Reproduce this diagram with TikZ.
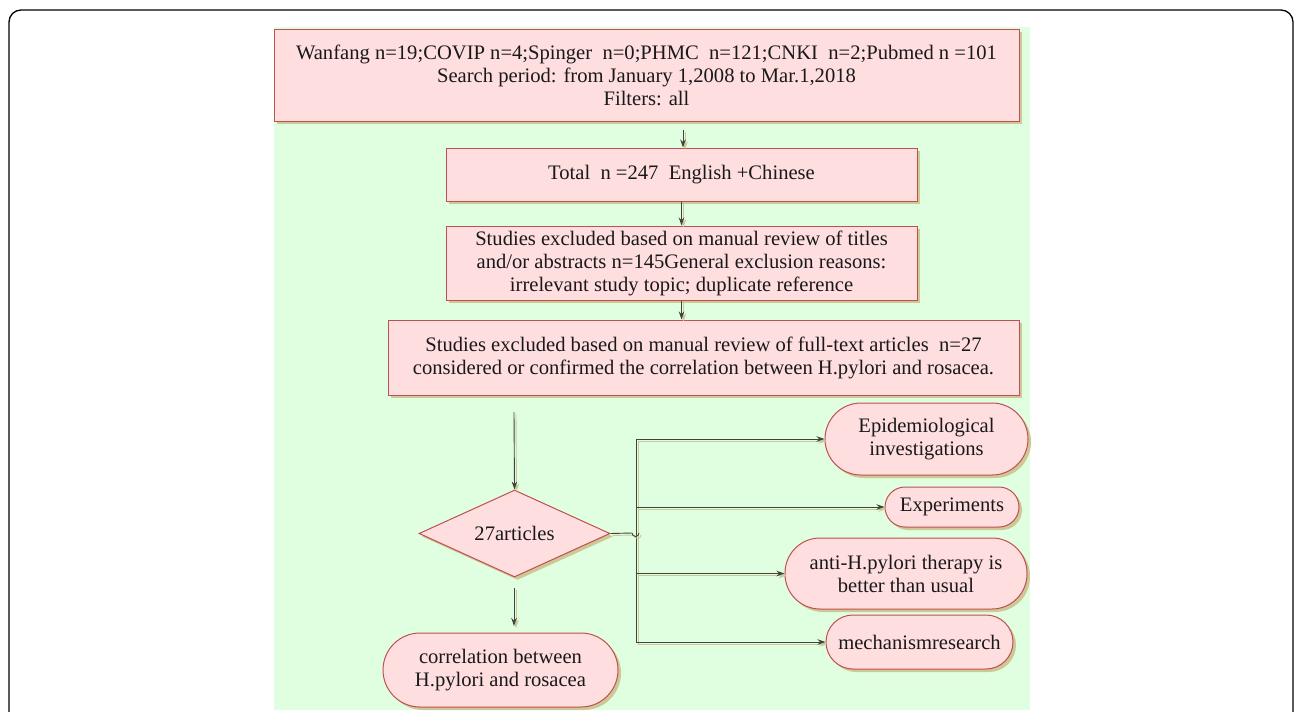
\documentclass[tikz,border=0pt]{standalone}
\usepackage{fontspec}
\setmainfont{Liberation Serif}
\usetikzlibrary{shapes.geometric,shadows,arrows.meta}
\definecolor{pinkfill}{RGB}{255,222,224}
\definecolor{boxline}{RGB}{190,80,82}
\definecolor{shadowcol}{RGB}{205,200,150}
\definecolor{panel}{RGB}{224,255,224}
\definecolor{linecol}{RGB}{64,68,64}
\definecolor{txt}{RGB}{25,25,25}
\tikzset{
  base/.style={draw=boxline, line width=1pt, fill=pinkfill, text=txt, align=center,
    font=\fontsize{20.6}{23}\selectfont, inner sep=0pt,
    drop shadow={shadow xshift=3pt, shadow yshift=-3pt, fill=shadowcol, opacity=1}},
  pbox/.style={base, rectangle},
  pill/.style={base, rectangle, rounded corners=#1},
  decis/.style={base, diamond, aspect=2.2},
  conn/.style={draw=linecol, line width=0.9pt, -{Stealth[length=8pt,width=5.5pt]},
    preaction={draw=shadowcol, line width=0.9pt, transform canvas={shift={(2pt,-2pt)}}}},
  plain/.style={draw=linecol, line width=0.9pt,
    preaction={draw=shadowcol, line width=0.9pt, transform canvas={shift={(2pt,-2pt)}}}}
}
\begin{document}
\begin{tikzpicture}[x=1pt,y=-1pt]
\useasboundingbox (0,0) rectangle (1296,712);
\clip (0,0) rectangle (1296,712);
\fill[white] (0,0) rectangle (1296,712);
\draw[black, line width=1.3pt, rounded corners=12] (9,740) rectangle (1293,10);
\fill[panel] (274,27) rectangle (1030,710);

\node[pbox, minimum width=745, minimum height=92] (src) at (646.5,75)
  {Wanfang n=19;COVIP n=4;Spinger\ \ n=0;PHMC\ \ n=121;CNKI\ \ n=2;Pubmed n =101\\
   Search period: from January 1,2008 to Mar.1,2018\\ Filters: all};
\node[pbox, minimum width=471, minimum height=53] (tot) at (681.5,174.5)
  {Total\ \ n =247\ \ English +Chinese};
\node[pbox, minimum width=471, minimum height=74] (ex1) at (681.5,263)
  {Studies excluded based on manual review of titles\\
   and/or abstracts n=145General exclusion reasons:\\
   irrelevant study topic; duplicate reference};
\node[pbox, minimum width=631, minimum height=75] (ex2) at (703.5,357.5)
  {Studies excluded based on manual review of full-text articles\ \ n=27\\
   considered or confirmed the correlation between H.pylori and rosacea.};
\node[decis, minimum width=191, minimum height=87] (art) at (514.5,533.5) {27articles};
\node[pill=37, minimum width=235, minimum height=74] (cor) at (500.5,670)
  {correlation between\\ H.pylori and rosacea};
\node[pill=36, minimum width=203, minimum height=72] (epi) at (926.5,439)
  {Epidemiological\\ investigations};
\node[pill=20, minimum width=134, minimum height=40] (exp) at (952,507) {Experiments};
\node[pill=35, minimum width=242, minimum height=71] (anti) at (906,573.5)
  {anti-H.pylori therapy is\\ better than usual};
\node[pill=27, minimum width=187, minimum height=54] (mech) at (919.5,642) {mechanismresearch};

\coordinate (a1) at (683,130);
\coordinate (a2) at (514,412);
\coordinate (a3) at (514,588);
\coordinate (a4) at (514,626);
\coordinate (t1) at (636,439);
\coordinate (t2) at (636,642);
\coordinate (h1) at (632,533);

\draw[conn] (a1) -- (tot.north -| a1);
\draw[conn] (tot.south) -- (ex1.north);
\draw[conn] (ex1.south) -- (ex1.south |- ex2.north);
\draw[conn] (a2) -- (art.north);
\draw[conn] (a3) -- (a4);
\draw[plain] (t1) -- (t2);
\draw[plain] (art.east) -- (h1) arc[start angle=180, end angle=0, radius=3.5];
\draw[conn] (t1) -- (epi.west);
\draw[conn] (636,507) -- (exp.west);
\draw[conn] (636,573.5) -- (anti.west);
\draw[conn] (t2) -- (mech.west);
\end{tikzpicture}
\end{document}
